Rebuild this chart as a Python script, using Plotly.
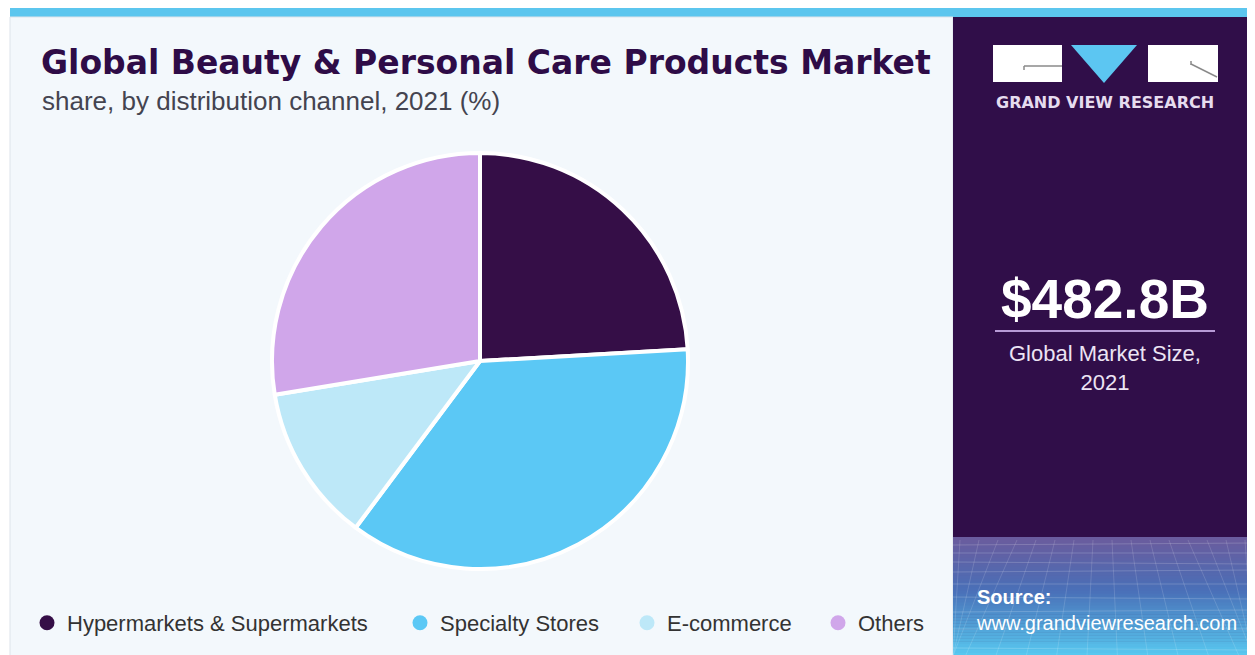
import plotly.graph_objects as go

# ---- data ----
categories = ["Hypermarkets & Supermarkets", "Specialty Stores", "E-commerce", "Others"]
shares = [24.1, 36.1, 12.2, 27.6]
colors = ["#350e47", "#5bc8f5", "#bde8f8", "#d0a6ea"]
legend_marker_x = [47, 420, 647, 838]

title_text = "Global Beauty & Personal Care Products Market"
subtitle_text = "share, by distribution channel, 2021 (%)"
market_size = "$482.8B"
market_label = "Global Market Size,<br>2021"

# figure size (page body has an 8px margin)
OFF = 8
W, H = 1247, 647


def px(x):
    """screen x -> paper fraction"""
    return (x - OFF) / W


def py(y):
    """screen y -> paper fraction"""
    return 1 - (y - OFF) / H


fig = go.Figure()

fig.add_trace(go.Pie(
    labels=categories,
    values=shares,
    sort=False,
    direction="clockwise",
    rotation=0,
    marker=dict(colors=colors, line=dict(color="#ffffff", width=4)),
    textinfo="none",
    hoverinfo="label+percent",
    showlegend=False,
    domain=dict(x=[px(272), px(688)], y=[py(569), py(153)]),
))

# legend entries (circle markers), one legend per entry for exact spacing
legend_names = ["legend", "legend2", "legend3", "legend4"]
for cat, col, lg in zip(categories, colors, legend_names):
    fig.add_trace(go.Scatter(
        x=[None], y=[None], mode="markers", name=cat,
        marker=dict(color=col, size=15, symbol="circle"),
        legend=lg, showlegend=True, hoverinfo="skip",
    ))

shapes = []
# top blue bar
shapes.append(dict(type="rect", xref="paper", yref="paper", x0=px(10), x1=px(1260), y0=py(17), y1=py(8),
                   fillcolor="#5cc6ee", line=dict(width=0), layer="below"))
# left light panel
shapes.append(dict(type="rect", xref="paper", yref="paper", x0=px(10), x1=px(953), y0=py(660), y1=py(17),
                   fillcolor="#f3f8fc", line=dict(color="#dde3ea", width=1), layer="below"))
# right dark panel
shapes.append(dict(type="rect", xref="paper", yref="paper", x0=px(953), x1=px(1253), y0=py(660), y1=py(17),
                   fillcolor="#300e49", line=dict(width=0), layer="below"))

# gradient band at bottom of right panel
top_c = (0x6a, 0x5c, 0x9e)
mid_c = (0x4a, 0x70, 0xb8)
bot_c = (0x58, 0xc8, 0xf0)
y_start, y_end = 537, 656
n = 40
for i in range(n):
    t = i / (n - 1)
    if t < 0.45:
        u = t / 0.45
        c = [int(top_c[k] + (mid_c[k] - top_c[k]) * u) for k in range(3)]
    else:
        u = (t - 0.45) / 0.55
        c = [int(mid_c[k] + (bot_c[k] - mid_c[k]) * u) for k in range(3)]
    ya = y_start + (y_end - y_start) * i / n
    yb = y_start + (y_end - y_start) * (i + 1) / n + 0.5
    shapes.append(dict(type="rect", xref="paper", yref="paper", x0=px(953), x1=px(1253),
                       y0=py(yb), y1=py(ya), fillcolor="rgb(%d,%d,%d)" % tuple(c),
                       line=dict(width=0), layer="below"))
# faint mesh lines
for k, yy in enumerate([545, 553, 562, 572, 584, 597, 612, 629, 648]):
    shapes.append(dict(type="line", xref="paper", yref="paper", x0=px(953), x1=px(1253), y0=py(yy), y1=py(yy + (k % 3 - 1) * 2),
                       line=dict(color="rgba(255,255,255,0.18)", width=1), layer="below"))
for k in range(16):
    xt = 960 + k * 19
    xb = 953 + (xt - 1103) * 1.6 + 150
    shapes.append(dict(type="line", xref="paper", yref="paper", x0=px(xt), x1=px(max(953, min(1253, xb))), y0=py(540), y1=py(656),
                       line=dict(color="rgba(255,255,255,0.14)", width=1), layer="below"))

# logo
shapes.append(dict(type="rect", xref="paper", yref="paper", x0=px(993), x1=px(1062), y0=py(82), y1=py(45),
                   fillcolor="#ffffff", line=dict(width=0)))
shapes.append(dict(type="rect", xref="paper", yref="paper", x0=px(1148), x1=px(1218), y0=py(82), y1=py(45),
                   fillcolor="#ffffff", line=dict(width=0)))
shapes.append(dict(type="path", xref="paper", yref="paper",
                   path="M %f %f L %f %f L %f %f Z" % (px(1071), py(45), px(1137), py(45), px(1104), py(83)),
                   fillcolor="#5cc6f2", line=dict(width=0)))
shapes.append(dict(type="line", xref="paper", yref="paper", x0=px(1024), x1=px(1062), y0=py(66), y1=py(66),
                   line=dict(color="#8a8a8a", width=1.5)))
shapes.append(dict(type="line", xref="paper", yref="paper", x0=px(1024), x1=px(1024), y0=py(66), y1=py(70),
                   line=dict(color="#8a8a8a", width=1.5)))
shapes.append(dict(type="line", xref="paper", yref="paper", x0=px(1191), x1=px(1217), y0=py(64), y1=py(77),
                   line=dict(color="#8a8a8a", width=1.5)))
shapes.append(dict(type="line", xref="paper", yref="paper", x0=px(1191), x1=px(1191), y0=py(61), y1=py(65),
                   line=dict(color="#8a8a8a", width=1.5)))
# divider under market size
shapes.append(dict(type="line", xref="paper", yref="paper", x0=px(995), x1=px(1215), y0=py(331), y1=py(331),
                   line=dict(color="#b79ad6", width=2)))

annotations = [
    dict(text="<b>" + title_text + "</b>", x=px(39), y=py(62), xref="paper", yref="paper",
         xanchor="left", yanchor="middle", showarrow=False,
         font=dict(family="DejaVu Sans", size=33, color="#2e0c47")),
    dict(text=subtitle_text, x=px(40), y=py(101), xref="paper", yref="paper",
         xanchor="left", yanchor="middle", showarrow=False,
         font=dict(family="Liberation Sans, Arial", size=26, color="#444450")),
    dict(text="<b>GRAND VIEW RESEARCH</b>", x=px(1105), y=py(102), xref="paper", yref="paper",
         xanchor="center", yanchor="middle", showarrow=False,
         font=dict(family="DejaVu Sans", size=16, color="#e6dcef")),
    dict(text="<b>" + market_size + "</b>", x=px(1105), y=py(299), xref="paper", yref="paper",
         xanchor="center", yanchor="middle", showarrow=False,
         font=dict(family="Liberation Sans, Arial", size=55, color="#ffffff")),
    dict(text=market_label, x=px(1105), y=py(368), xref="paper", yref="paper",
         xanchor="center", yanchor="middle", showarrow=False, align="center",
         font=dict(family="Liberation Sans, Arial", size=22, color="#ece4f4")),
    dict(text="<b>Source:</b><br>www.grandviewresearch.com", x=px(974), y=py(610), xref="paper", yref="paper",
         xanchor="left", yanchor="middle", showarrow=False, align="left",
         font=dict(family="Liberation Sans, Arial", size=20, color="#ffffff")),
]

layout_kwargs = dict(
    width=W, height=H,
    margin=dict(l=0, r=0, t=0, b=0),
    paper_bgcolor="#ffffff",
    plot_bgcolor="rgba(0,0,0,0)",
    xaxis=dict(visible=False),
    yaxis=dict(visible=False),
    shapes=shapes,
    annotations=annotations,
)
for lg, mx in zip(legend_names, legend_marker_x):
    layout_kwargs[lg] = dict(
        x=px(mx - 20), y=py(623), xanchor="left", yanchor="middle",
        orientation="h", bgcolor="rgba(0,0,0,0)", borderwidth=0,
        font=dict(family="Liberation Sans, Arial", size=22, color="#333333"),
    )

fig.update_layout(**layout_kwargs)
fig.write_html("out.html")
